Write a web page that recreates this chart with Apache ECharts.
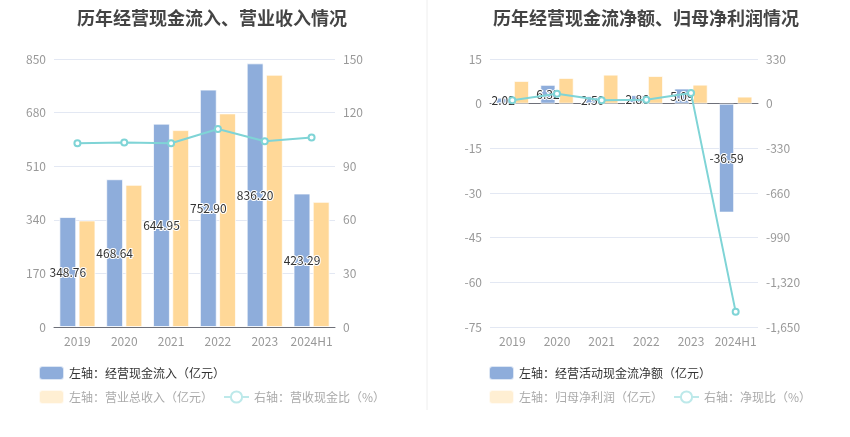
<!DOCTYPE html>
<html><head><meta charset="utf-8">
<script src="https://cdn.jsdelivr.net/npm/echarts@6/dist/echarts.min.js"></script>
<style>html,body{margin:0;padding:0;background:#fff}#c{width:850px;height:437px}</style>
</head><body><div id="c"></div>
<script>
var years = ['2019','2020','2021','2022','2023','2024H1'];
var inflow = [348.76,468.64,644.95,752.90,836.20,423.29];
var revenue = [337.8,450.9,624.5,677.5,800.0,396.9];
var cashRatio = [102.8,103.3,102.8,110.8,104.0,106.1];
var netCash = [2.02,6.32,2.50,2.86,5.09,-36.59];
var netProfit = [7.63,8.64,9.75,9.3,6.39,2.38];
var netRatio = [25,73,25,29,78,-1538];

var FONT = '"Noto Sans CJK SC","Microsoft YaHei",sans-serif';
var BLUE = '#8eaddb', YEL = '#ffd898', CYAN = '#7fd4d6';
var axisLbl = {color:'#999', fontSize:12, fontFamily:FONT, interval:0};
var split = {lineStyle:{color:'#e3e8f3'}};
var barLabel = {show:true, position:'inside', color:'#333', fontSize:12, fontFamily:FONT,
  textBorderColor:'#fff', textBorderWidth:2, formatter:function(p){return p.value.toFixed(2);}};
var fadedLine = {itemStyle:{color:'#bde9ea'}, lineStyle:{color:'#bde9ea'}};

var chart = echarts.init(document.getElementById('c'));
chart.setOption({
  animation:false,
  textStyle:{fontFamily:FONT},
  title:[
    {text:'历年经营现金流入、营业收入情况', left:207, textAlign:'center', top:4,
     textStyle:{fontSize:18, fontWeight:'bold', color:'#444', fontFamily:FONT}},
    {text:'历年经营现金流净额、归母净利润情况', left:641, textAlign:'center', top:4,
     textStyle:{fontSize:18, fontWeight:'bold', color:'#444', fontFamily:FONT}}
  ],
  graphic:[{type:'line', shape:{x1:427,y1:0,x2:427,y2:410}, style:{stroke:'#eeeeee', lineWidth:1}}],
  legend:[
    {left:33, top:360, itemGap:10, textStyle:{color:'#333', fontSize:12, fontFamily:FONT},
     data:['左轴：经营现金流入（亿元）']},
    {left:33, top:384, itemGap:10, textStyle:{color:'#aaa', fontSize:12, fontFamily:FONT},
     data:[{name:'左轴：营业总收入（亿元）', itemStyle:{color:'#ffefd3'}},
           Object.assign({name:'右轴：营收现金比（%）'}, fadedLine)]},
    {left:483, top:360, itemGap:10, textStyle:{color:'#333', fontSize:12, fontFamily:FONT},
     data:['左轴：经营活动现金流净额（亿元）']},
    {left:483, top:384, itemGap:10, textStyle:{color:'#aaa', fontSize:12, fontFamily:FONT},
     data:[{name:'左轴：归母净利润（亿元）', itemStyle:{color:'#ffefd3'}},
           Object.assign({name:'右轴：净现比（%）'}, fadedLine)]}
  ],
  grid:[
    {left:54, top:59, width:281, height:268},
    {left:490, top:59, width:268, height:268}
  ],
  xAxis:[
    {type:'category', gridIndex:0, data:years, axisLabel:axisLbl,
     axisTick:{alignWithLabel:true, lineStyle:{color:'#6e7079'}}, axisLine:{lineStyle:{color:'#6e7079'}}},
    {type:'category', gridIndex:1, data:years, axisLabel:axisLbl,
     axisLine:{show:false, onZero:false}, axisTick:{show:false}},
    {type:'category', gridIndex:1, data:years, position:'bottom', axisLabel:{show:false},
     axisLine:{onZero:true, onZeroAxisIndex:2, lineStyle:{color:'#6e7079'}},
     axisTick:{alignWithLabel:true, interval:0, lineStyle:{color:'#6e7079'}}}
  ],
  yAxis:[
    {type:'value', gridIndex:0, min:0, max:850, interval:170, axisLabel:axisLbl, splitLine:split,
     axisLine:{show:false}, axisTick:{show:false}},
    {type:'value', gridIndex:0, min:0, max:150, interval:30, axisLabel:axisLbl, splitLine:{show:false},
     axisLine:{show:false}, axisTick:{show:false}},
    {type:'value', gridIndex:1, min:-75, max:15, interval:15, axisLabel:axisLbl, splitLine:split,
     axisLine:{show:false}, axisTick:{show:false}},
    {type:'value', gridIndex:1, min:-1650, max:330, interval:330, axisLabel:axisLbl, splitLine:{show:false},
     axisLine:{show:false}, axisTick:{show:false}}
  ],
  series:[
    {name:'左轴：经营现金流入（亿元）', type:'bar', xAxisIndex:0, yAxisIndex:0, data:inflow,
     barWidth:'36%', barGap:'14%', itemStyle:{color:BLUE, borderColor:'rgba(255,255,255,0.7)', borderWidth:1},
     label:barLabel, z:3},
    {name:'左轴：营业总收入（亿元）', type:'bar', xAxisIndex:0, yAxisIndex:0, data:revenue,
     barWidth:'36%', itemStyle:{color:YEL, borderColor:'rgba(255,255,255,0.7)', borderWidth:1}},
    {name:'右轴：营收现金比（%）', type:'line', xAxisIndex:0, yAxisIndex:1, data:cashRatio,
     symbol:'emptyCircle', symbolSize:6, lineStyle:{color:CYAN, width:2}, itemStyle:{color:CYAN, borderWidth:2}, z:4},
    {name:'左轴：经营活动现金流净额（亿元）', type:'bar', xAxisIndex:1, yAxisIndex:2, data:netCash,
     barWidth:'34%', barGap:'20%', itemStyle:{color:BLUE, borderColor:'rgba(255,255,255,0.7)', borderWidth:1},
     label:barLabel, z:3},
    {name:'左轴：归母净利润（亿元）', type:'bar', xAxisIndex:1, yAxisIndex:2, data:netProfit,
     barWidth:'34%', itemStyle:{color:YEL, borderColor:'rgba(255,255,255,0.7)', borderWidth:1}},
    {name:'右轴：净现比（%）', type:'line', xAxisIndex:1, yAxisIndex:3, data:netRatio,
     symbol:'emptyCircle', symbolSize:6, lineStyle:{color:CYAN, width:2}, itemStyle:{color:CYAN, borderWidth:2}, z:4}
  ]
});
</script></body></html>
